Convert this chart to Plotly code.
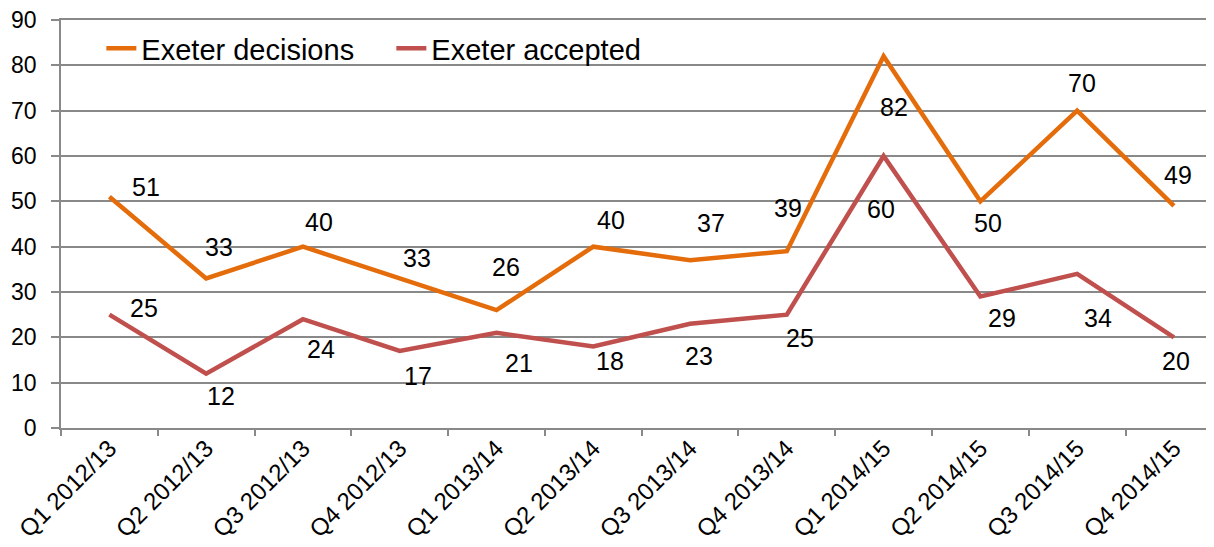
import plotly.graph_objects as go

quarters = ["Q1 2012/13", "Q2 2012/13", "Q3 2012/13", "Q4 2012/13",
            "Q1 2013/14", "Q2 2013/14", "Q3 2013/14", "Q4 2013/14",
            "Q1 2014/15", "Q2 2014/15", "Q3 2014/15", "Q4 2014/15"]
decisions = [51, 33, 40, 33, 26, 40, 37, 39, 82, 50, 70, 49]
accepted = [25, 12, 24, 17, 21, 18, 23, 25, 60, 29, 34, 20]

# label offsets in pixels (dx right, dy up)
dec_off = [(37, 10), (13, 31), (16, 25), (17, 20), (9, 43), (18, 27),
           (21, 37), (1, 43), (10, -51), (8, -22), (5, 28), (4, 31)]
acc_off = [(35, 7), (15, -22), (18, -30), (18, -25), (22, -30), (17, -15),
           (9, -32), (13, -23), (-3, -53), (22, -21), (21, -44), (2, -24)]

ORANGE = "#E46C0A"
RED = "#C0504D"
GRID = "#898989"

fig = go.Figure()
fig.add_trace(go.Scatter(x=quarters, y=decisions, name="Exeter decisions",
                         mode="lines", line=dict(color=ORANGE, width=4.5)))
fig.add_trace(go.Scatter(x=quarters, y=accepted, name="Exeter accepted",
                         mode="lines", line=dict(color=RED, width=4.5)))

annotations = []
for series, offs in ((decisions, dec_off), (accepted, acc_off)):
    for q, v, (dx, dy) in zip(quarters, series, offs):
        annotations.append(dict(x=q, y=v, text=str(v), showarrow=False,
                                xshift=dx, yshift=dy,
                                font=dict(size=25, color="#000000",
                                          family="Liberation Sans, Arial")))

fig.update_layout(
    width=1206, height=539,
    margin=dict(l=53, r=0, t=12, b=119, autoexpand=False),
    paper_bgcolor="white", plot_bgcolor="white",
    font=dict(family="Liberation Sans, Arial", color="#000000"),
    showlegend=True,
    legend=dict(orientation="h", x=0.035, y=0.993, xanchor="left", yanchor="top",
                font=dict(size=29, color="#000000"), bgcolor="rgba(0,0,0,0)",
                itemwidth=30, entrywidth=245, entrywidthmode="pixels"),
    annotations=annotations,
    xaxis=dict(type="category", range=[-0.5, 11.414], showgrid=False,
               automargin=False, ticklabeloverflow="allow",
               showline=True, mirror=True, linecolor=GRID, linewidth=1.5,
               ticks="outside", tickson="boundaries", ticklen=6,
               tickcolor=GRID, tickwidth=1.5, tickangle=-45,
               ticklabelstandoff=-5,
               tickfont=dict(size=24, color="#000000")),
    yaxis=dict(range=[0, 90], tickvals=[0, 10, 20, 30, 40, 50, 60, 70, 80, 90],
               showgrid=True, gridcolor=GRID,
               automargin=False, ticklabeloverflow="allow",
               gridwidth=1.5, showline=True, linecolor=GRID, linewidth=1.5,
               ticks="outside", ticklen=8, tickcolor=GRID, tickwidth=1.5,
               zeroline=False, ticklabelstandoff=10,
               tickfont=dict(size=23, color="#000000")),
)

fig.write_html("out.html")
